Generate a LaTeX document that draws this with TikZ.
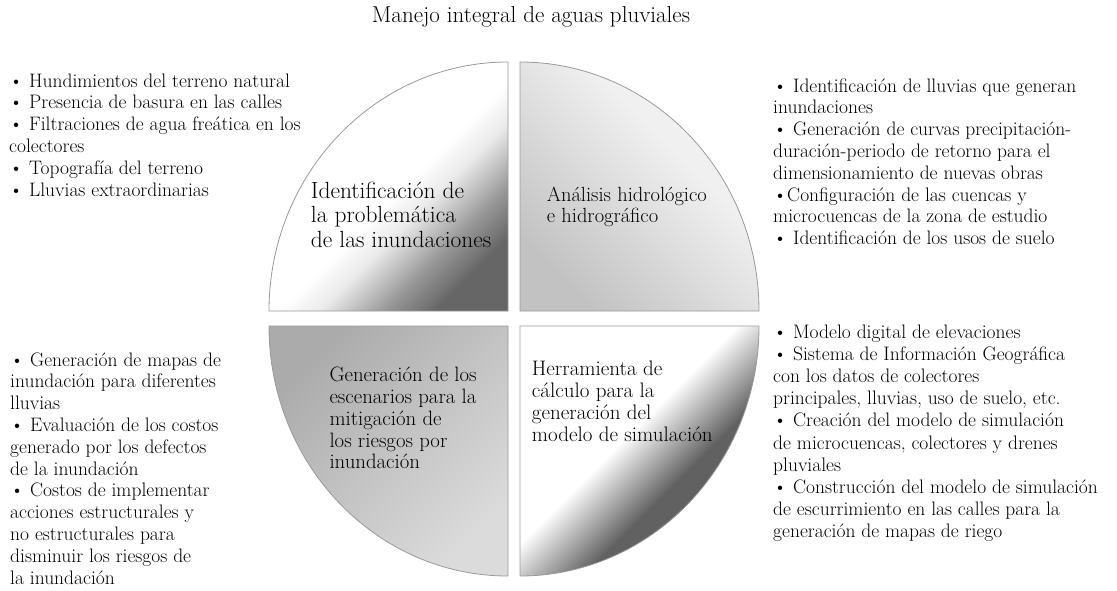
\documentclass[tikz,border=0pt]{standalone}
\newcommand{\lineas}[1]{\begin{tabular}[t]{@{}l@{}}#1\end{tabular}}
\pgfdeclareverticalshading{sombraA}{100bp}{color(0bp)=(black!60); color(25bp)=(black!60); color(32bp)=(black!42); color(42bp)=(black!8); color(48bp)=(white); color(100bp)=(white)}
\pgfdeclareverticalshading{sombraB}{100bp}{color(0bp)=(black!24); color(25bp)=(black!24); color(60bp)=(black!6); color(100bp)=(black!6)}
\pgfdeclareverticalshading{sombraC}{100bp}{color(0bp)=(black!14); color(25bp)=(black!14); color(75bp)=(black!33); color(100bp)=(black!33)}
\pgfdeclareverticalshading{sombraD}{100bp}{color(0bp)=(black!62); color(40bp)=(black!62); color(46bp)=(black!35); color(54bp)=(white); color(100bp)=(white)}
\begin{document}
\begin{tikzpicture}[x=1pt, y=-1pt,
	lista/.style = {anchor=base west, inner sep=0pt, font=\fontsize{19.5}{21.8}\selectfont},
	tema/.style = {anchor=base west, inner sep=0pt},
	cuarto/.style = {draw=black!40, line width=0.8pt}]
		\useasboundingbox (0,0) rectangle (1117,590);
		\node (titulo) at (531,22) [anchor=base, inner sep=0pt, font=\fontsize{23}{26}\selectfont] {Manejo integral de aguas pluviales};
		% los cuatro cuadrantes
		\shade[cuarto, shading=sombraA, shading angle=45] (269,311) arc[start angle=180, end angle=270, x radius=239, y radius=249] -- (508,311) -- cycle;
		\shade[cuarto, shading=sombraB, shading angle=-45] (520,311) -- (759,311) arc[start angle=0, end angle=-90, x radius=239, y radius=249] -- cycle;
		\shade[cuarto, shading=sombraC, shading angle=45] (269,326) arc[start angle=180, end angle=90, x radius=239, y radius=250] -- (508,326) -- cycle;
		\shade[cuarto, shading=sombraD, shading angle=45] (520,326) -- (759,326) arc[start angle=0, end angle=90, x radius=239, y radius=250] -- cycle;
		% textos de los cuadrantes
		\node[tema, font=\fontsize{23.4}{24.5}\selectfont] (problema) at (310.7,198) {\lineas{Identificación de\\la problemática\\de las inundaciones}};
		\node[tema, font=\fontsize{20.5}{20}\selectfont] (hidrologia) at (546.7,201.7) {\lineas{Análisis hidrológico\\e hidrográfico}};
		\node[tema, font=\fontsize{20.8}{21.8}\selectfont] (escenarios) at (329.3,381.7) {\lineas{Generación de los\\escenarios para la\\mitigación de\\los riesgos por\\inundación}};
		\node[tema, font=\fontsize{21}{22}\selectfont] (herramienta) at (531.7,375) {\lineas{Herramienta de\\cálculo para la\\generación del\\modelo de simulación}};
		% listas
		\node[lista] (causas) at (9,87) {\lineas{\textbullet{} Hundimientos del terreno natural\\\textbullet{} Presencia de basura en las calles\\\textbullet{} Filtraciones de agua freática en los\\colectores\\\textbullet{} Topografía del terreno\\\textbullet{} Lluvias extraordinarias}};
		\node[lista] (lluvias) at (773,92) {\lineas{\textbullet{} Identificación de lluvias que generan\\inundaciones\\\textbullet{} Generación de curvas precipitación-\\duración-periodo de retorno para el\\dimensionamiento de nuevas obras\\\textbullet Configuración de las cuencas y\\microcuencas de la zona de estudio\\\textbullet{} Identificación de los usos de suelo}};
		\node[lista] (mapas) at (10,366) {\lineas{\textbullet{} Generación de mapas de\\inundación para diferentes\\lluvias\\\textbullet{} Evaluación de los costos\\generado por los defectos\\de la inundación\\\textbullet{} Costos de implementar\\acciones estructurales y\\no estructurales para\\disminuir los riesgos de\\la inundación}};
		\node[lista, font=\fontsize{19.5}{22.2}\selectfont] (modelo) at (773,338) {\lineas{\textbullet{} Modelo digital de elevaciones\\\textbullet{} Sistema de Información Geográfica\\con los datos de colectores\\principales, lluvias, uso de suelo, etc.\\\textbullet{} Creación del modelo de simulación\\de microcuencas, colectores y drenes\\pluviales\\\textbullet{} Construcción del modelo de simulación\\de escurrimiento en las calles para la\\generación de mapas de riego}};
	\end{tikzpicture}
\end{document}
